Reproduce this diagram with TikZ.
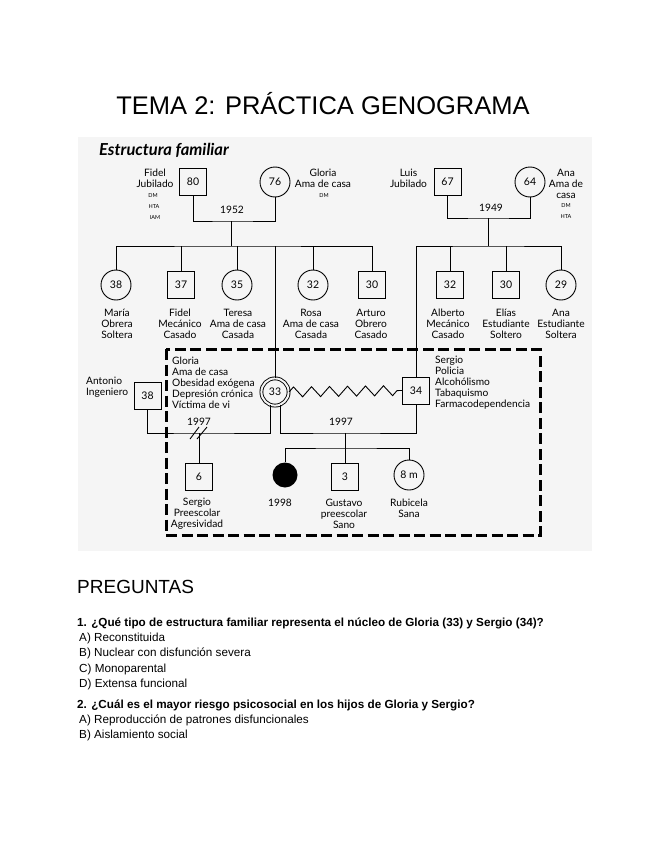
\documentclass[tikz,border=0pt]{standalone}
\usepackage{fontspec}
\setmainfont{Liberation Sans}
\newfontfamily\gfont{Lato}
\usetikzlibrary{decorations.pathmorphing,calc}
\begin{document}
\begin{tikzpicture}[x=1pt,y=-1pt,
  every node/.style={inner sep=0pt},
  ln/.style={line width=0.9pt},
  sq/.style={draw, line width=0.9pt, minimum size=27pt, font=\gfont\fontsize{10.5}{11}\selectfont},
  ci/.style={draw, circle, line width=0.9pt, minimum size=30pt, font=\gfont\fontsize{10.5}{11}\selectfont},
  lab/.style={font=\gfont\fontsize{10.2}{11}\selectfont, align=center},
  lableft/.style={font=\gfont\fontsize{10.2}{11}\selectfont, align=left, anchor=west},
  tinylab/.style={font=\gfont\fontsize{5.5}{6}\selectfont},
  opt/.style={font=\fontsize{11.7}{13}\selectfont, anchor=west},
  quest/.style={font=\bfseries\fontsize{11.7}{13}\selectfont, anchor=west}
]
\useasboundingbox (0,0) rectangle (655,848);
\fill[white] (0,0) rectangle (655,848);

% title
\node[font=\fontsize{25.5}{30}\selectfont] (title) at (323,104) {TEMA 2: PRÁCTICA GENOGRAMA};

% diagram background
\fill[black!4] (78,137) rectangle (592,551);
\node[font=\gfont\bfseries\itshape\fontsize{16.5}{18}\selectfont, anchor=west] (est) at (99,150) {Estructura familiar};

% generation 1
\node[sq] (fidel) at (193,182) {80};
\node[ci] (gloria) at (275,182) {76};
\node[sq] (luis) at (447.5,182) {67};
\node[ci] (ana) at (530,182) {64};

% generation 2
\node[ci] (maria) at (116,285) {38};
\node[sq] (fidelh) at (181,285) {37};
\node[ci] (teresa) at (237,285) {35};
\node[ci] (rosa) at (313,285) {32};
\node[sq] (arturo) at (372,285) {30};
\node[sq] (alberto) at (450,285) {32};
\node[sq] (elias) at (506,285) {30};
\node[ci] (anah) at (561,285) {29};

\node[draw, circle, line width=0.9pt, double=black!4, double distance=2pt, minimum size=27.2pt, font=\gfont\fontsize{10.5}{11}\selectfont] (glo) at (275,392) {33};
\node[sq] (antonio) at (147.5,395.5) {38};
\node[sq] (sergio) at (416,390.5) {34};

% generation 3
\node[sq] (sergioh) at (199,477) {6};
\node[circle, fill=black, minimum size=25pt] (dead) at (285,475) {};
\node[sq] (gustavo) at (345,477) {3};
\node[ci] (rubi) at (409,475) {8 m};

% connectors Fidel-Gloria
\coordinate (fg) at (231,221);
\coordinate (fgb) at (231,246);
\draw[ln] (fidel.south) |- (fg) -| (gloria.south);
\draw[ln] (fg) -- (fgb);
\draw[ln] (maria.north) |- (fgb) -| (arturo.north);
\foreach \n in {fidelh,teresa,rosa,glo} \draw[ln] (\n.north) -- (\n.north |- fgb);

% connectors Luis-Ana
\coordinate (la) at (488,218);
\coordinate (lab) at (488,246);
\draw[ln] (luis.south) |- (la) -| (ana.south);
\draw[ln] (la) -- (lab);
\draw[ln] (sergio.north) |- (lab) -| (anah.north);
\foreach \n in {alberto,elias} \draw[ln] (\n.north) -- (\n.north |- lab);

% Antonio - Gloria
\coordinate (ag) at (199,433);
\draw[ln] (antonio.south) |- (ag) -| (glo.-110);
\draw[ln] (ag) -- (sergioh.north);
\draw[ln] ($(ag)+(-9,6)$) -- ($(ag)+(0,-6)$);
\draw[ln] ($(ag)+(-2,6)$) -- ($(ag)+(8,-6)$);

% Gloria - Sergio
\coordinate (gs) at (345,433);
\coordinate (gsb) at (345,448);
\draw[ln] (glo.-65) |- (gs) -| (sergio.south);
\draw[ln] (gs) -- (gustavo.north);
\draw[ln] (dead.north) |- (gsb) -| (rubi.north);
\draw[ln, decorate, decoration={zigzag, segment length=18pt, amplitude=5pt}] (glo.east) -- (sergio.west);

% dashed household box
\draw[line width=3pt, dash pattern=on 11pt off 4.5pt] (166,349) rectangle (540,535);

% labels gen 1
\node[lab] at (155,178.5) {Fidel\\Jubilado};
\node[tinylab] at (153,196) {DM};
\node[tinylab] at (154,207) {HTA};
\node[tinylab] at (155,218) {IAM};
\node[lab] at (323,178.5) {Gloria\\Ama de casa};
\node[tinylab] at (324,196) {DM};
\node[lab] at (408.5,178.5) {Luis\\Jubilado};
\node[lab] at (566,184) {Ana\\Ama de\\casa};
\node[tinylab] at (566,206) {DM};
\node[tinylab] at (566,217) {HTA};
\node[lab] at (232,210) {1952};
\node[lab] at (491,208) {1949};

% labels gen 2
\node[lab] at (117,324) {María\\Obrera\\Soltera};
\node[lab] at (180,324) {Fidel\\Mecánico\\Casado};
\node[lab] at (238,324) {Teresa\\Ama de casa\\Casada};
\node[lab] at (311,324) {Rosa\\Ama de casa\\Casada};
\node[lab] at (371,324) {Arturo\\Obrero\\Casado};
\node[lab] at (448,324) {Alberto\\Mecánico\\Casado};
\node[lab] at (506,324) {Elías\\Estudiante\\Soltero};
\node[lab] at (561,324) {Ana\\Estudiante\\Soltera};

\node[lableft] at (172,383) {Gloria\\Ama de casa\\Obesidad exógena\\Depresión crónica\\Víctima de vi};
\node[lableft] at (435,383) {Sergio\\Policia\\Alcohólismo\\Tabaquismo\\Farmacodependencia};
\node[lableft] at (86,387.5) {Antonio\\Ingeniero};
\node[lab] at (199,422) {1997};
\node[lab] at (341,422) {1997};

% labels gen 3
\node[lab] at (197,514) {Sergio\\Preescolar\\Agresividad};
\node[lab] at (280,503) {1998};
\node[lab] at (344,514) {Gustavo\\preescolar\\Sano};
\node[lab] at (409,508.5) {Rubicela\\Sana};

% questions
\node[font=\fontsize{19}{22}\selectfont, anchor=west] (preg) at (77,587) {PREGUNTAS};
\node[quest] (q1) at (77,623) {1. ¿Qué tipo de estructura familiar representa el núcleo de Gloria (33) y Sergio (34)?};
\node[opt] (q1a) at (79,638) {A) Reconstituida};
\node[opt] (q1b) at (79,653) {B) Nuclear con disfunción severa};
\node[opt] (q1c) at (79,669) {C) Monoparental};
\node[opt] (q1d) at (79,684) {D) Extensa funcional};
\node[quest] (q2) at (77,705) {2. ¿Cuál es el mayor riesgo psicosocial en los hijos de Gloria y Sergio?};
\node[opt] (q2a) at (79,720) {A) Reproducción de patrones disfuncionales};
\node[opt] (q2b) at (79,735) {B) Aislamiento social};
\end{tikzpicture}
\end{document}
